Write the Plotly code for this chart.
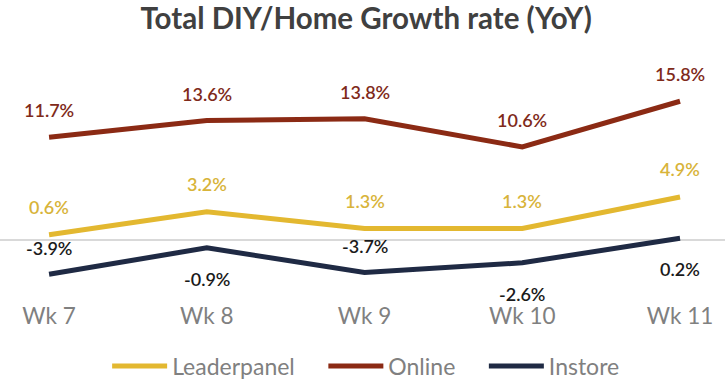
import plotly.graph_objects as go

weeks = ["Wk 7", "Wk 8", "Wk 9", "Wk 10", "Wk 11"]
leaderpanel = [0.6, 3.2, 1.3, 1.3, 4.9]
online = [11.7, 13.6, 13.8, 10.6, 15.8]
instore = [-3.9, -0.9, -3.7, -2.6, 0.2]
instore_label_above = [True, False, True, False, False]

c_lp = "#E3B830"
c_on = "#8B2A14"
c_in = "#1F2A44"

NB = "\u00a0"
fig = go.Figure()
x_idx = list(range(len(weeks)))
for name, vals, col, pad in [("Leaderpanel", leaderpanel, c_lp, 4), ("Online", online, c_on, 4),
                             ("Instore", instore, c_in, 0)]:
    fig.add_trace(go.Scatter(x=x_idx, y=vals, mode="lines", name=name + NB * pad,
                             line=dict(color=col, width=5), hoverinfo="skip"))

ann = []
lab_font = dict(size=18, weight=600)
for i, v in enumerate(online):
    ann.append(dict(x=i, y=v, text=f"{v:.1f}%", showarrow=False, yshift=27,
                    font=dict(lab_font, color="#7F2A1A")))
for i, v in enumerate(leaderpanel):
    ann.append(dict(x=i, y=v, text=f"{v:.1f}%", showarrow=False, yshift=28,
                    font=dict(lab_font, color="#D8B43A")))
for i, v in enumerate(instore):
    ann.append(dict(x=i, y=v, text=f"{v:.1f}%", showarrow=False,
                    yshift=26 if instore_label_above[i] else -31,
                    font=dict(lab_font, color="#1A1A1A")))

fig.update_layout(
    width=725, height=388,
    margin=dict(l=0, r=0, t=60, b=88),
    paper_bgcolor="white", plot_bgcolor="white",
    font=dict(family="Lato", color="#7F7F7F"),
    title=dict(text="<b>Total DIY/Home Growth rate (YoY)</b>", x=0.505, xanchor="center",
               y=0.953, yanchor="middle", font=dict(size=29.5, color="#404040")),
    xaxis=dict(range=[-0.311, 4.285], tickvals=x_idx, ticktext=weeks, showgrid=False,
               zeroline=False, showline=False, ticks="", tickfont=dict(size=22.5, color="#808080")),
    yaxis=dict(range=[-6.84, 20.5], showgrid=False, showticklabels=False, zeroline=True,
               zerolinecolor="#D9D9D9", zerolinewidth=1.5, showline=False, ticks=""),
    showlegend=True,
    legend=dict(orientation="h", x=0.505, xanchor="center", y=-0.275, yanchor="middle",
                font=dict(size=23, color="#808080"), itemwidth=55),
    annotations=ann,
)

fig.write_html("out.html", post_script="document.body.style.margin='0px';",
               config={"displayModeBar": False, "staticPlot": True})
